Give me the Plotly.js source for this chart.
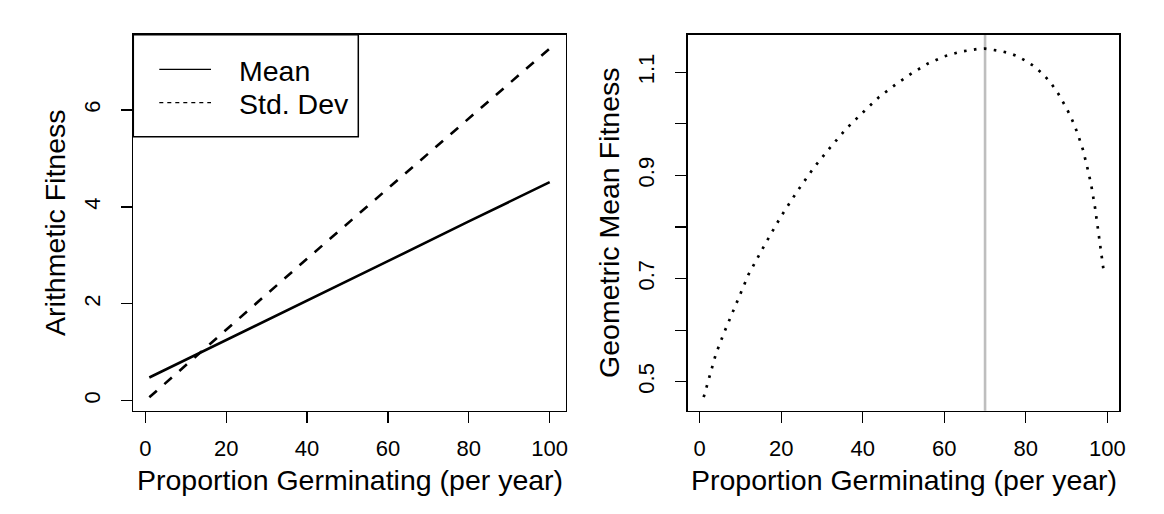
<!DOCTYPE html>
<html><head><meta charset="utf-8">
<script src="https://cdn.plot.ly/plotly-3.0.1.min.js"></script>
<style>html,body{margin:0;padding:0;background:#fff}#chart{width:1164px;height:514px}</style>
</head><body><div id="chart"></div>
<script>
// Left panel: arithmetic mean and standard deviation of fitness
const germinationArith = [1, 20, 40, 60, 80, 100];
const meanFitness = [0.48, 1.25, 2.07, 2.88, 3.70, 4.51];
const sdFitness = [0.07, 1.47, 2.93, 4.38, 5.83, 7.27];

// Right panel: geometric mean fitness
const germinationGeo = [1, 4, 6, 9, 12, 16, 20, 24, 28, 32, 36, 40, 44, 48, 52, 56, 60, 64, 68, 70,
  72, 74, 76, 78, 80, 82, 84, 86, 88, 89, 90, 91, 92, 93, 94, 95, 96, 97, 98, 99];
const geoMeanFitness = [0.470, 0.554, 0.595, 0.653, 0.708, 0.766, 0.821, 0.870, 0.915, 0.954, 0.991, 1.022,
  1.052, 1.076, 1.098, 1.117, 1.131, 1.140, 1.145, 1.146, 1.144, 1.141, 1.137, 1.131, 1.122, 1.112,
  1.098, 1.081, 1.058, 1.045, 1.030, 1.014, 0.996, 0.974, 0.950, 0.918, 0.883, 0.836, 0.781, 0.720];
const optimalGermination = 70;

// Labels and ticks
const seriesNames = ['Mean', 'Std. Dev'];
const xTitle = 'Proportion Germinating (per year)';
const yTitleArith = 'Arithmetic Fitness';
const yTitleGeo = 'Geometric Mean Fitness';
const xTicks = [0, 20, 40, 60, 80, 100];
const yTicksArith = [0, 2, 4, 6];
const yTicksGeo = [0.5, 0.6, 0.7, 0.8, 0.9, 1.0, 1.1];
const yTickTextGeo = ['0.5', '', '0.7', '', '0.9', '', '1.1'];

const FONT = 'Liberation Sans, Arial, Helvetica, sans-serif';
const TICK = 22, TITLE = 28.5;

const traces = [
  {x: germinationArith, y: meanFitness, type: 'scatter', mode: 'lines', name: seriesNames[0],
   line: {color: '#000', width: 2.6}, xaxis: 'x', yaxis: 'y'},
  {x: germinationArith, y: sdFitness, type: 'scatter', mode: 'lines', name: seriesNames[1],
   line: {color: '#000', width: 2.6, dash: '10px,10px'}, xaxis: 'x', yaxis: 'y'},
  {x: germinationGeo, y: geoMeanFitness, type: 'scatter', mode: 'lines', name: 'Geometric mean',
   line: {color: '#000', width: 2.7, dash: '2.6px,7.4px'}, xaxis: 'x2', yaxis: 'y2'}
];

function xax(domain, range, anchor) {
  return {domain: domain, range: range, anchor: anchor, tickvals: xTicks, ticks: 'outside', ticklen: 11,
    tickwidth: 1.2, tickcolor: '#000', showline: true, linecolor: '#000', linewidth: 1.5, mirror: true,
    showgrid: false, zeroline: false, tickfont: {size: TICK, family: FONT, color: '#000'},
    ticklabelstandoff: 6};
}
function yax(domain, range, anchor, vals, text, title) {
  const a = {domain: domain, range: range, anchor: anchor, tickvals: vals, ticks: 'outside', ticklen: 11,
    tickwidth: 1.2, tickcolor: '#000', showline: true, linecolor: '#000', linewidth: 1.5, mirror: true,
    showgrid: false, zeroline: false, tickangle: -90, tickfont: {size: TICK, family: FONT, color: '#000'},
    ticklabelstandoff: 12,
    title: {text: title, font: {size: TITLE, family: FONT, color: '#000'}, standoff: 6}};
  if (text) a.ticktext = text;
  return a;
}

// geometry (pixels of the plotting boxes)
const P = {h: 514, w: 1164, top: 34.7, bottom: 410.7, l1: 133.3, r1: 565.7, l2: 687.7, r2: 1119.3};
const yDom = [1 - P.bottom / P.h, 1 - P.top / P.h];
const plotH = P.bottom - P.top, plotW1 = P.r1 - P.l1;
const ydom = px => 1 - (px - P.top) / plotH;        // pixel row -> y domain fraction
const xdom1 = px => (px - P.l1) / plotW1;            // pixel col -> left x domain fraction

const legendRows = [69.3, 102.7];
const legendDash = ['solid', '4px,4px'];

const shapes = [
  {type: 'line', xref: 'x2', yref: 'y2 domain', x0: optimalGermination, x1: optimalGermination,
   y0: 0, y1: 1, line: {color: '#bebebe', width: 2.6}, layer: 'below'},
  {type: 'rect', xref: 'x domain', yref: 'y domain', x0: 0, x1: xdom1(358.3), y0: ydom(136.7), y1: 1,
   line: {color: '#000', width: 1.5}, fillcolor: '#fff', layer: 'above'}
];
const annotations = [];
seriesNames.forEach((nm, i) => {
  shapes.push({type: 'line', xref: 'x domain', yref: 'y domain', x0: xdom1(159.3), x1: xdom1(211),
    y0: ydom(legendRows[i]), y1: ydom(legendRows[i]), line: {color: '#000', width: 1.2, dash: legendDash[i]},
    layer: 'above'});
  annotations.push({text: nm, xref: 'x domain', yref: 'y domain', x: xdom1(236.7), xanchor: 'left',
    y: ydom(legendRows[i] + 1.5), yanchor: 'middle', showarrow: false,
    font: {size: TITLE, family: FONT, color: '#000'}});
});
[['x domain', 'y domain'], ['x2 domain', 'y2 domain']].forEach(r => {
  annotations.push({text: xTitle, xref: r[0], yref: r[1], x: 0.5, xanchor: 'center',
    y: ydom(462), yanchor: 'top', showarrow: false, font: {size: TITLE, family: FONT, color: '#000'}});
});

const layout = {
  width: P.w, height: P.h, margin: {l: 0, r: 0, t: 0, b: 0},
  paper_bgcolor: '#fff', plot_bgcolor: '#fff',
  font: {family: FONT, color: '#000', size: TICK},
  showlegend: false,
  xaxis: xax([P.l1 / P.w, P.r1 / P.w], [-2.96, 103.96], 'y'),
  yaxis: yax(yDom, [-0.206, 7.554], 'x', yTicksArith, null, yTitleArith),
  xaxis2: xax([P.l2 / P.w, P.r2 / P.w], [-2.92, 102.92], 'y2'),
  yaxis2: yax(yDom, [0.4437, 1.173], 'x2', yTicksGeo, yTickTextGeo, yTitleGeo),
  shapes: shapes,
  annotations: annotations
};

Plotly.newPlot('chart', traces, layout, {staticPlot: true});
</script></body></html>
